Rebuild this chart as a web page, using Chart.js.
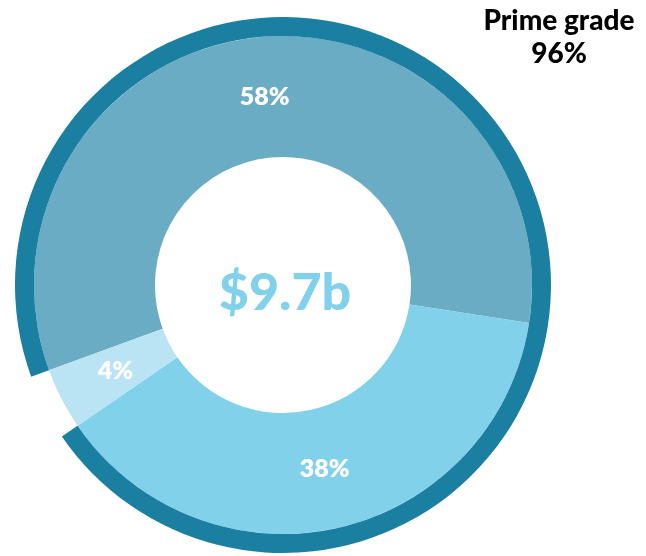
<!DOCTYPE html>
<html>
<head>
<meta charset="utf-8">
<script src="https://cdn.jsdelivr.net/npm/chart.js@4"></script>
<style>
  html, body { margin: 0; padding: 0; background: #fff; }
  #wrap { position: relative; width: 646px; height: 556px; }
  #gradeLabel {
    position: absolute; left: 464px; top: 3px; width: 190px;
    text-align: center; font-family: Lato, sans-serif; font-weight: 900;
    font-size: 28px; line-height: 33px; color: #000;
  }
</style>
</head>
<body>
<div id="wrap">
  <canvas id="myChart" width="646" height="556"></canvas>
  <div id="gradeLabel">Prime grade<br>96%</div>
</div>
<script>
// grade split of the portfolio
var categories = ['A', 'B', 'C'];
var gradeShares = [58, 38, 4];
var segmentColors = ['#6aacc4', '#82d1eb', '#bae3f3'];

// outer ring: prime grade vs the rest
var primeShares = [96, 4];
var primeColors = ['#1a7fa0', 'rgba(0,0,0,0)'];

var totalLabel = '$9.7b';

var labelPlugin = {
  id: 'sliceLabels',
  afterDatasetsDraw: function(chart) {
    let ctx = chart.ctx;
    let meta = chart.getDatasetMeta(1);
    ctx.save();
    ctx.fillStyle = '#ffffff';
    ctx.font = '800 25px Lato, sans-serif';
    ctx.textAlign = 'center';
    ctx.textBaseline = 'middle';
    meta.data.forEach(function(arc, i) {
      let p = arc.tooltipPosition();
      ctx.fillText(gradeShares[i] + '%', p.x, p.y);
    });
    // centre figure
    let c = meta.data[0];
    ctx.fillStyle = '#82d1eb';
    ctx.font = '900 52px Lato, sans-serif';
    ctx.fillText(totalLabel, c.x + 2, c.y + 8);
    ctx.restore();
  }
};

let ctx = document.getElementById('myChart');
let myPieChart = new Chart(ctx, {
  type: 'doughnut',
  data: {
    labels: categories,
    datasets: [{
      data: primeShares,
      backgroundColor: primeColors,
      borderWidth: 0,
      weight: 19
    }, {
      data: gradeShares,
      backgroundColor: segmentColors,
      borderWidth: 0,
      weight: 121
    }]
  },
  options: {
    responsive: false,
    animation: false,
    cutout: 128,
    rotation: 250,
    layout: { padding: { left: 15, right: 95, top: 17, bottom: 3 } },
    plugins: {
      legend: { display: false },
      tooltip: { enabled: false }
    }
  },
  plugins: [labelPlugin]
});
</script>
</body>
</html>
